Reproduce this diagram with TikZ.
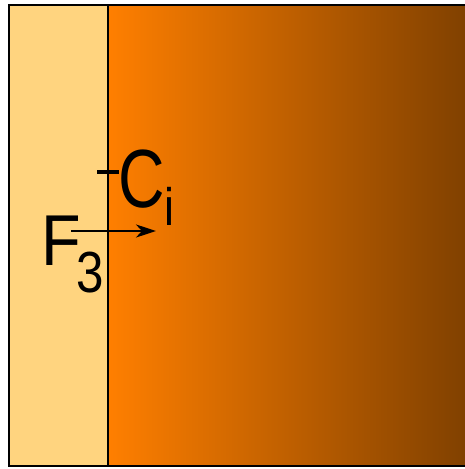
\documentclass[tikz,border=0pt]{standalone}
\usepackage{fontspec}
\setmainfont{Liberation Sans}
\usetikzlibrary{arrows.meta, positioning}
\definecolor{sandf}{HTML}{FFD47F}
\definecolor{oranl}{HTML}{FF7F00}
\definecolor{brownr}{HTML}{7F4000}
\tikzset{
  wall/.style={draw=black, line width=1.2pt},
  lbl/.style={inner sep=0pt, text=black},
  arr/.style={-{Stealth[length=4mm, width=2.6mm, inset=1.2mm]}, line width=1.4pt},
}

\begin{document}
\begin{tikzpicture}[x=0.02cm, y=-0.02cm]
  \useasboundingbox (0,0) rectangle (464,469);
  % ---------------- regions ----------------
  \fill[sandf] (9,5) rectangle (108,466);
  \shade[left color=oranl, right color=brownr] (108,5) rectangle (470,466);
  \draw[wall] (470,5) -- (9,5) -- (9,466) -- (470,466);
  \draw[wall] (108,5) -- (108,466);

  % ---------------- labels ----------------
  \node[lbl, xscale=0.78, font=\fontsize{47}{47}\selectfont] (ci) at (142,179) {C};
  \node[lbl, xscale=0.85, font=\fontsize{30}{30}\selectfont] (sub) at (169.5,206) {i};
  \draw[line width=2pt] (97,172) -- (119,172);
  \node[lbl, xscale=0.9, font=\fontsize{41}{41}\selectfont] (f) at (61,241) {F};
  \node[lbl, xscale=0.85, font=\fontsize{33}{33}\selectfont] (three) at (90,272.5) {3};

  % ---------------- force ----------------
  \coordinate (arrs) at (71,231);
  \coordinate (arre) at (156,231);
  \draw[arr] (arrs) -- (arre);
\end{tikzpicture}
\end{document}
